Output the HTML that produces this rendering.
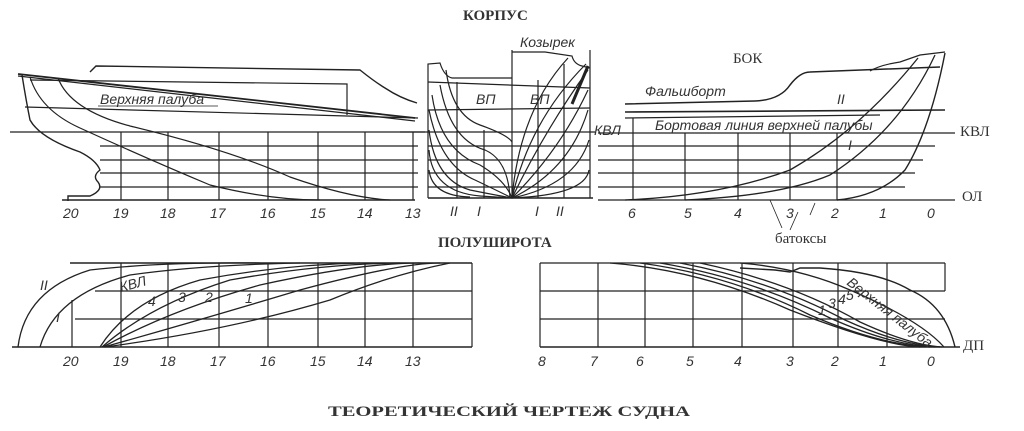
<!DOCTYPE html>
<html><head><meta charset="utf-8"><style>
html,body{margin:0;padding:0;background:#fff;width:1024px;height:431px;overflow:hidden}
svg{display:block}
text{font-family:"Liberation Sans",sans-serif;fill:#333;stroke:none}
.i{font-style:italic;font-size:14px}
.s{font-family:"Liberation Serif",serif;font-size:15px}
</style></head><body>
<svg width="1024" height="431" viewBox="0 0 1024 431" fill="none" stroke="#222" stroke-width="1.2">
<!-- ===== Stern side view ===== -->
<g>
<line x1="10" y1="132" x2="425" y2="132"/>
<line x1="100" y1="146" x2="418" y2="146"/>
<line x1="100" y1="160" x2="418" y2="160"/>
<line x1="100" y1="173" x2="418" y2="173"/>
<line x1="100" y1="187" x2="418" y2="187"/>
<line x1="62" y1="200" x2="415" y2="200" stroke-width="1.6"/>
<line x1="121" y1="132" x2="121" y2="200"/><line x1="168" y1="132" x2="168" y2="200"/>
<line x1="219" y1="132" x2="219" y2="200"/><line x1="268" y1="132" x2="268" y2="200"/>
<line x1="318" y1="132" x2="318" y2="200"/><line x1="365" y1="132" x2="365" y2="200"/>
<line x1="413" y1="132" x2="413" y2="200"/>
<path d="M18 74 L415 118" stroke-width="1.8"/>
<path d="M18 76 L415 121" stroke-width="1.3"/>
<path d="M90 72 L96 66 L360 70 Q375 82 385 88 Q400 98 417 103" stroke-width="1.4"/>
<path d="M30 80 L347 84 L347 115" />
<path d="M25 107 L418 118"/>
<path d="M22 75 Q26 100 30 120 Q40 138 80 152 Q96 160 100 170 Q92 176 98 182 Q104 190 90 196 L68 196 L68 201" stroke-width="1.4"/>
<path d="M30 77 Q40 110 80 128 Q150 160 210 185 Q270 200 320 200"/>
<path d="M58 78 Q70 110 130 126 Q230 150 290 177 Q350 198 390 200"/>
<text x="100" y="104" class="i">Верхняя палуба</text>
<line x1="98" y1="106" x2="218" y2="106" stroke-width="0.8"/>
</g>
<!-- ===== Body plan ===== -->
<g>
<path d="M428 198 L428 64 L440 63 Q444 76 452 78"/>
<line x1="512" y1="50" x2="512" y2="198"/>
<line x1="590" y1="50" x2="590" y2="198"/>
<line x1="428" y1="198" x2="593" y2="198" stroke-width="1.5"/>
<path d="M452 78 L512 78"/><path d="M512 52 L545 52 L572 56 Q574 64 582 66 L590 68"/>
<line x1="428" y1="82" x2="590" y2="88"/>
<line x1="428" y1="110" x2="590" y2="108"/>
<line x1="400" y1="132" x2="595" y2="132"/>
<line x1="428" y1="146" x2="590" y2="146"/>
<line x1="428" y1="160" x2="590" y2="160"/>
<line x1="428" y1="173" x2="590" y2="173"/>
<line x1="428" y1="187" x2="590" y2="187"/>
<line x1="457" y1="82" x2="457" y2="198"/><line x1="484" y1="130" x2="484" y2="198"/>
<line x1="538" y1="80" x2="538" y2="198"/><line x1="564" y1="64" x2="564" y2="198"/>
<path d="M446 70 Q452 115 480 125 Q508 135 512 142"/>
<path d="M440 85 Q450 140 485 150 Q508 160 510 198"/>
<path d="M432 95 Q440 150 480 165 Q505 180 512 198"/>
<path d="M429 110 Q440 165 475 180 Q500 192 512 198"/>
<path d="M429 130 Q435 180 470 190 Q500 196 512 198"/>
<path d="M429 150 Q432 192 480 196 L512 198"/>
<path d="M429 170 Q432 196 470 197"/>
<path d="M512 198 Q520 110 568 58"/>
<path d="M512 198 Q530 120 586 64"/>
<path d="M512 198 Q545 130 588 70"/>
<path d="M512 198 Q560 150 588 90"/>
<path d="M512 198 Q570 170 588 110"/>
<path d="M512 198 Q575 185 589 140"/>
<path d="M512 198 Q585 195 589 170"/>
<path d="M572 104 L588 66" stroke-width="3"/>
<text x="476" y="104" class="i" font-size="13">ВП</text>
<text x="530" y="104" class="i" font-size="13">ВП</text>
<text x="520" y="47" class="i" font-size="13">Козырек</text>
<text x="594" y="135" class="i" font-size="11">КВЛ</text>
<text x="450" y="216" class="i" font-size="13">II</text><text x="477" y="216" class="i" font-size="13">I</text>
<text x="535" y="216" class="i" font-size="13">I</text><text x="556" y="216" class="i" font-size="13">II</text>
</g>
<!-- ===== Bow side view ===== -->
<g>
<line x1="598" y1="133" x2="955" y2="133" stroke-width="1.3"/>
<line x1="598" y1="200" x2="955" y2="200" stroke-width="1.3"/>
<line x1="598" y1="146" x2="935" y2="146"/>
<line x1="598" y1="160" x2="923" y2="160"/>
<line x1="598" y1="173" x2="915" y2="173"/>
<line x1="598" y1="187" x2="905" y2="187"/>
<line x1="625" y1="112" x2="945" y2="110" stroke-width="1.6"/>
<line x1="625" y1="118" x2="880" y2="115"/>
<path d="M625 104 L755 101 Q780 100 790 85 Q800 72 810 72 L940 67" stroke-width="1.5"/>
<path d="M870 71 Q880 65 900 62 L920 55 L945 52"/>
<line x1="633" y1="118" x2="633" y2="200"/><line x1="685" y1="133" x2="685" y2="200"/>
<line x1="738" y1="133" x2="738" y2="200"/><line x1="790" y1="133" x2="790" y2="200"/>
<line x1="837" y1="133" x2="837" y2="200"/>
<path d="M625 200 Q720 196 790 170 Q860 130 918 58" stroke-width="1.3"/>
<path d="M685 200 Q780 196 830 175 Q900 130 935 55" stroke-width="1.3"/>
<path d="M837 200 Q880 196 905 170 Q930 130 945 53" stroke-width="1.4"/>
<text x="645" y="96" class="i" font-size="13">Фальшборт</text>
<text x="655" y="130" class="i" font-size="11">Бортовая линия верхней палубы</text>
<text x="837" y="104" class="i" font-size="12">II</text>
<text x="848" y="150" class="i" font-size="12">I</text>
<text x="733" y="63" class="s" font-size="18">БОК</text>
<text x="960" y="136" class="s" font-size="18">КВЛ</text>
<text x="962" y="201" class="s" font-size="18">ОЛ</text>
<path d="M770 200 L782 228 M790 230 L798 212 M815 203 L810 215" stroke-width="0.8"/>
<text x="775" y="243" class="s" font-size="15">батоксы</text>
</g>
<text x="463" y="20" class="s" font-weight="bold" font-size="15">КОРПУС</text>
<text x="438" y="247" class="s" font-weight="bold" font-size="17">ПОЛУШИРОТА</text>
<g>
<text x="63" y="218" class="i">20</text><text x="113" y="218" class="i">19</text><text x="160" y="218" class="i">18</text>
<text x="210" y="218" class="i">17</text><text x="260" y="218" class="i">16</text><text x="310" y="218" class="i">15</text>
<text x="357" y="218" class="i">14</text><text x="405" y="218" class="i">13</text>
<text x="628" y="218" class="i">6</text><text x="684" y="218" class="i">5</text><text x="734" y="218" class="i">4</text>
<text x="786" y="218" class="i">3</text><text x="831" y="218" class="i">2</text><text x="879" y="218" class="i">1</text><text x="927" y="218" class="i">0</text>
</g>
<!-- ===== Half-breadth left ===== -->
<g>
<line x1="70" y1="263" x2="472" y2="263" stroke-width="1.5"/>
<line x1="95" y1="291" x2="472" y2="291"/>
<line x1="75" y1="319" x2="472" y2="319"/>
<line x1="12" y1="347" x2="472" y2="347" stroke-width="1.4"/>
<line x1="121" y1="263" x2="121" y2="347"/><line x1="168" y1="263" x2="168" y2="347"/>
<line x1="219" y1="263" x2="219" y2="347"/><line x1="268" y1="263" x2="268" y2="347"/>
<line x1="318" y1="263" x2="318" y2="347"/><line x1="365" y1="263" x2="365" y2="347"/>
<line x1="413" y1="263" x2="413" y2="347"/><line x1="472" y1="263" x2="472" y2="347"/>
<line x1="72" y1="300" x2="72" y2="347"/>
<path d="M18 347 Q25 290 90 270 Q160 262 260 263" stroke-width="1.3"/>
<path d="M40 347 Q55 295 130 275 Q200 265 300 263" stroke-width="1.3"/>
<path d="M100 347 Q130 300 200 280 Q280 265 360 263" stroke-width="1.3"/>
<path d="M102 347 Q150 305 230 280 Q320 264 400 263" stroke-width="1.3"/>
<path d="M103 347 Q170 310 260 285 Q360 263 420 263" stroke-width="1.3"/>
<path d="M104 347 Q200 320 300 290 Q400 263 440 263" stroke-width="1.3"/>
<path d="M105 347 Q230 330 330 300 Q390 275 450 263" stroke-width="1.3"/>
<text x="40" y="290" class="i" font-size="13">II</text>
<text x="56" y="322" class="i" font-size="13">I</text>
<text x="121" y="292" class="i" font-size="12" transform="rotate(-15 121 292)">КВЛ</text>
<text x="148" y="306" class="i" font-size="11">4</text><text x="178" y="302" class="i" font-size="11">3</text>
<text x="205" y="302" class="i" font-size="11">2</text><text x="245" y="303" class="i" font-size="11">1</text>
</g>
<g>
<text x="63" y="366" class="i">20</text><text x="113" y="366" class="i">19</text><text x="160" y="366" class="i">18</text>
<text x="210" y="366" class="i">17</text><text x="260" y="366" class="i">16</text><text x="310" y="366" class="i">15</text>
<text x="357" y="366" class="i">14</text><text x="405" y="366" class="i">13</text>
</g>
<!-- ===== Half-breadth right ===== -->
<g>
<line x1="540" y1="263" x2="945" y2="263" stroke-width="1.3"/>
<line x1="540" y1="291" x2="945" y2="291"/>
<line x1="540" y1="319" x2="945" y2="319"/>
<line x1="540" y1="347" x2="960" y2="347" stroke-width="1.4"/>
<line x1="540" y1="263" x2="540" y2="347"/>
<line x1="598" y1="263" x2="598" y2="347"/><line x1="645" y1="263" x2="645" y2="347"/>
<line x1="693" y1="263" x2="693" y2="347"/><line x1="742" y1="263" x2="742" y2="347"/>
<line x1="793" y1="263" x2="793" y2="347"/><line x1="838" y1="263" x2="838" y2="347"/>
<line x1="887" y1="263" x2="887" y2="347"/><line x1="945" y1="263" x2="945" y2="291"/>
<path d="M610 263 Q700 270 790 310 Q880 345 920 347" stroke-width="1.3"/>
<path d="M640 263 Q730 275 810 315 Q880 345 930 347" stroke-width="1.3"/>
<path d="M660 263 Q750 278 830 318 Q890 345 935 347" stroke-width="1.3"/>
<path d="M680 263 Q770 280 845 320 Q900 345 940 347" stroke-width="1.3"/>
<path d="M700 263 Q790 282 860 322 Q910 345 942 347" stroke-width="1.3"/>
<path d="M740 263 Q800 268 850 290 Q920 320 944 347" stroke-width="1.3"/>
<path d="M740 268 L775 270 L790 272 L800 268 L820 268 Q880 272 910 290 Q945 305 955 347" stroke-width="1.4"/>
<text x="846" y="284" class="i" font-size="12" transform="rotate(38 846 284)">Верхняя палуба</text>
<text x="818" y="315" class="i" font-size="10">1</text><text x="828" y="308" class="i" font-size="10">3</text>
<text x="838" y="304" class="i" font-size="10">4</text><text x="846" y="300" class="i" font-size="10">5</text>
<text x="963" y="350" class="s" font-size="18">ДП</text>
</g>
<g>
<text x="538" y="366" class="i">8</text><text x="590" y="366" class="i">7</text><text x="636" y="366" class="i">6</text>
<text x="686" y="366" class="i">5</text><text x="734" y="366" class="i">4</text><text x="786" y="366" class="i">3</text>
<text x="831" y="366" class="i">2</text><text x="879" y="366" class="i">1</text><text x="927" y="366" class="i">0</text>
</g>
<text x="328" y="416" class="s" font-weight="bold" font-size="18" textLength="362" lengthAdjust="spacingAndGlyphs">ТЕОРЕТИЧЕСКИЙ  ЧЕРТЕЖ  СУДНА</text>
</svg>
</body></html>
